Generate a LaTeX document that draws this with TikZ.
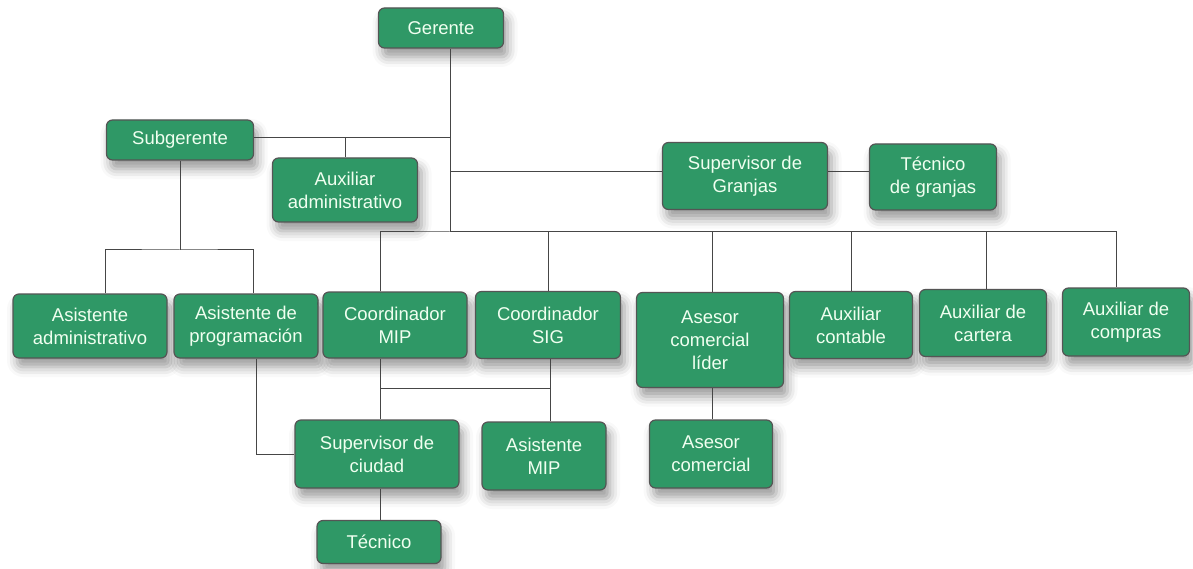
\documentclass[tikz,border=0pt]{standalone}
\usepackage{fontspec}
\setmainfont{Liberation Sans}
\usetikzlibrary{shadows.blur}
\definecolor{boxgreen}{RGB}{47,152,102}
\definecolor{boxedge}{RGB}{85,85,85}
\definecolor{linegray}{RGB}{70,70,70}
\tikzset{
  org/.style={draw=boxedge, line width=1.2pt, fill=boxgreen, rounded corners=6pt,
    text=white!94!green, align=center, font=\fontsize{18.5}{23}\selectfont,
    inner sep=0pt, minimum width=#1,
    blur shadow={shadow xshift=4pt, shadow yshift=-9pt, shadow blur radius=10pt, shadow opacity=40}},
  conn/.style={draw=linegray, line width=1pt},
}
\begin{document}
\begin{tikzpicture}[x=1pt,y=-1pt]
\useasboundingbox (0,0) rectangle (1193,569);
\node[org=125pt, minimum height=40pt] (ger) at (441,28) {Gerente};
\node[org=147pt, minimum height=40pt] (sub) at (180,140) {Subgerente};
\node[org=145pt, minimum height=64pt] (auxadm) at (345,190) {Auxiliar\\administrativo};
\node[org=165pt, minimum height=67pt] (supgr) at (745,176) {Supervisor de\\Granjas};
\node[org=127pt, minimum height=66pt] (tecgr) at (933,177) {Técnico\\de granjas};
\node[org=154pt, minimum height=64pt] (asadm) at (90,326) {Asistente\\administrativo};
\node[org=144pt, minimum height=64pt] (asprog) at (246,326) {Asistente de\\programación};
\node[org=144pt, minimum height=66pt] (cmip) at (395,325) {Coordinador\\MIP};
\node[org=145pt, minimum height=67pt] (csig) at (548,325) {Coordinador\\SIG};
\node[org=147pt, minimum height=95pt] (acl) at (710,340) {Asesor\\comercial\\líder};
\node[org=123pt, minimum height=67pt] (auxcon) at (851,325) {Auxiliar\\contable};
\node[org=127pt, minimum height=67pt] (auxcar) at (983,323) {Auxiliar de\\cartera};
\node[org=127pt, minimum height=68pt] (auxcom) at (1126,322) {Auxiliar de\\compras};
\node[org=164pt, minimum height=68pt] (supc) at (377,454) {Supervisor de\\ciudad};
\node[org=124pt, minimum height=68pt] (asmip) at (544,456) {Asistente\\MIP};
\node[org=123pt, minimum height=68pt] (ac) at (711,454) {Asesor\\comercial};
\node[org=124pt, minimum height=43pt] (tec) at (379,542) {Técnico};
\coordinate (trunk) at (450,232);
\coordinate (jsub) at (450,138);
\coordinate (jgr) at (450,172);
\coordinate (jaux) at (345,138);
\coordinate (jsb) at (180,250);
\coordinate (jmip) at (380,388);
\coordinate (jsig) at (550,388);
\draw[conn] (ger.south -| trunk) -- (trunk);
\draw[conn] (sub.east |- jsub) -- (jsub);
\draw[conn] (jaux) -- (auxadm.north);
\draw[conn] (jgr) -- (supgr.west |- jgr);
\draw[conn] (supgr.east |- jgr) -- (tecgr.west |- jgr);
\draw[conn] (cmip.north -| 380,0) |- (trunk) -| (auxcom.north -| 1116,0);
\draw[conn] (trunk) -| (csig.north -| 548,0);
\draw[conn] (trunk) -| (acl.north -| 712,0);
\draw[conn] (trunk) -| (auxcon.north);
\draw[conn] (trunk) -| (auxcar.north -| 986,0);
\draw[conn] (sub.south) -- (jsb);
\draw[conn] (asadm.north -| 105,0) |- (jsb) -| (asprog.north -| 253,0);
\draw[conn] (asprog.south -| 256,0) |- (supc.west);
\draw[conn] (cmip.south -| jmip) -- (supc.north -| jmip);
\draw[conn] (jmip) -- (jsig);
\draw[conn] (csig.south -| jsig) -- (asmip.north -| jsig);
\draw[conn] (acl.south -| 712,0) -- (ac.north -| 712,0);
\draw[conn] (supc.south -| 380,0) -- (tec.north -| 380,0);
\end{tikzpicture}
\end{document}
